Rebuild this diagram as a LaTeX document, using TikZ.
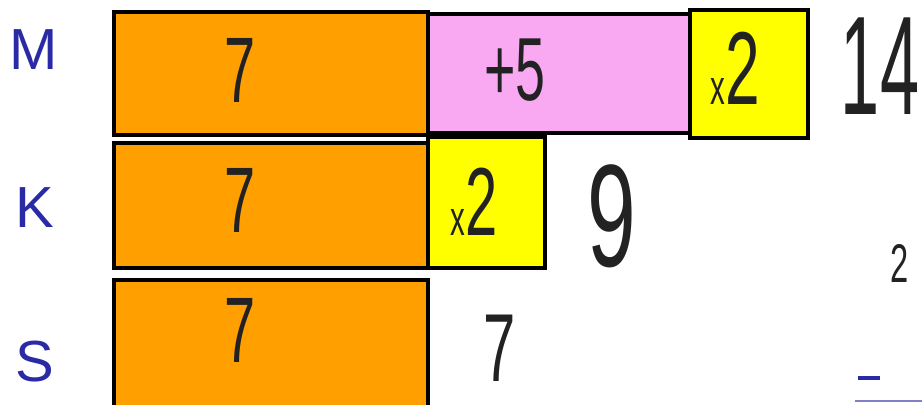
\documentclass[tikz,border=0pt]{standalone}
\usepackage{fontspec}
\setmainfont{Liberation Sans}
\usepackage{graphicx}
\usepackage{xcolor}
\definecolor{barorange}{HTML}{FFA000}
\definecolor{barpink}{HTML}{F9A8F2}
\definecolor{baryellow}{HTML}{FFFF00}
\definecolor{penblue}{HTML}{2A2AA6}
\definecolor{penink}{HTML}{222222}
% narrow hand-drawn looking digits
\newcommand{\hand}[3][0.6]{\fontsize{#2}{#2}\selectfont\scalebox{#1}[1]{#3}}

\begin{document}
\begin{tikzpicture}[x=0.02cm,y=-0.02cm,
    bar/.style={draw=black,line width=2.6pt},
    ink/.style={text=penink,inner sep=0pt},
    who/.style={text=penblue,font=\fontsize{33}{35}\selectfont}]
  \useasboundingbox (0,0) rectangle (922,405);
  \clip (0,0) rectangle (922,405);
  % M
  \fill[barorange] (114,12) rectangle (428,135);
  \draw[bar] (114,12) rectangle (428,135);
  \node[ink] (m7) at (240,70) {\hand{53}{7}};
  \fill[barpink] (428,14) rectangle (690,133);
  \draw[bar] (428,14) rectangle (690,133);
  \node[ink] (m5) at (515,70) {\hand{51}{+5}};
  \fill[baryellow] (690,10) rectangle (808,138);
  \draw[bar] (690,10) rectangle (808,138);
  \node[ink] (mx) at (735,68) {\hand{28}{x}\hand{59}{2}};
  \node[ink] (m14) at (880,66) {\hand[0.5]{80}{14}};
  % K
  \fill[barorange] (114,143) rectangle (428,268);
  \draw[bar] (114,143) rectangle (428,268);
  \node[ink] (k7) at (240,200) {\hand{53}{7}};
  \fill[baryellow] (428,137) rectangle (545,268);
  \draw[bar] (428,137) rectangle (545,268);
  \node[ink] (kx) at (474,202) {\hand{28}{x}\hand{55}{2}};
  \node[ink] (k9) at (612,216) {\hand{83}{9}};
  % S
  \fill[barorange] (114,280) rectangle (428,410);
  \draw[bar] (114,280) rectangle (428,410);
  \node[ink] (s7) at (240,330) {\hand{53}{7}};
  \node[ink] (s77) at (500,348) {\hand{55}{7}};
  % names
  \node[who] (nm) at (34,50) {M};
  \node[who] (nk) at (35,208) {K};
  \node[who] (ns) at (35,362) {S};
  % right side
  \node[ink] (r2) at (900,263) {\hand{31}{2}};
  \coordinate (da) at (858,378);
  \coordinate (db) at (880,378);
  \draw[penblue,line width=2.2pt] (da) -- (db);
  \coordinate (la) at (855,401);
  \coordinate (lb) at (922,401);
  \draw[penblue!60,line width=1.5pt] (la) -- (lb);
\end{tikzpicture}
\end{document}
